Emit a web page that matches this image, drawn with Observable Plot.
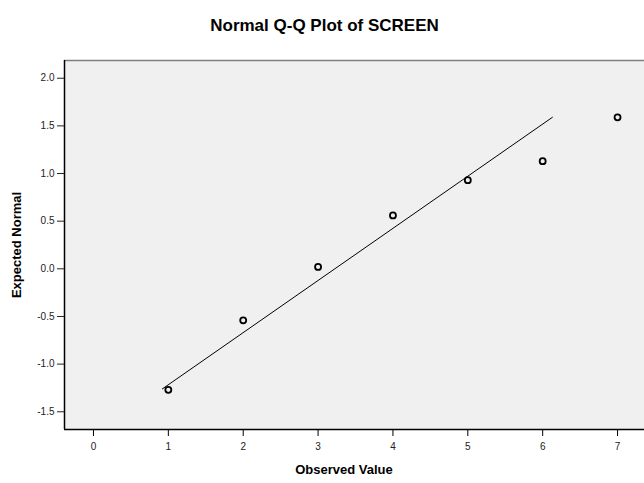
<!DOCTYPE html>
<html>
<head>
<meta charset="utf-8">
<script src="https://cdn.jsdelivr.net/npm/d3@7"></script>
<script src="https://cdn.jsdelivr.net/npm/@observablehq/plot@0.6"></script>
<style>
  html, body { margin: 0; padding: 0; background: white; }
  #chart svg { display: block; }
</style>
</head>
<body>
<div id="chart"></div>
<script>
const title = "Normal Q-Q Plot of SCREEN";
const xLabel = "Observed Value";
const yLabel = "Expected Normal";
const observed = [1, 2, 3, 4, 5, 6, 7];
const expected = [-1.27, -0.54, 0.02, 0.56, 0.93, 1.13, 1.59];
const lineX = [0.92, 6.13];
const lineY = [-1.26, 1.59];
const xTicks = [0, 1, 2, 3, 4, 5, 6, 7];
const yTicks = [-1.5, -1.0, -0.5, 0.0, 0.5, 1.0, 1.5, 2.0];

const points = observed.map((x, i) => ({x, y: expected[i]}));
const fitLine = lineX.map((x, i) => ({x, y: lineY[i]}));
const xDomain = [-0.387, 7.36];
const yDomain = [-1.686, 2.186];

const chart = Plot.plot({
  width: 644,
  height: 483,
  marginLeft: 64,
  marginRight: 0,
  marginTop: 60,
  marginBottom: 54,
  style: {fontFamily: "'Liberation Sans', Arial, sans-serif", fontSize: "10px", background: "white", color: "black"},
  x: {domain: xDomain},
  y: {domain: yDomain},
  marks: [
    Plot.frame({fill: "#f0f0f0", stroke: null}),
    Plot.ruleY([yDomain[1]], {stroke: "#808080", strokeWidth: 1.5}),
    Plot.ruleX([xDomain[0]], {stroke: "black", strokeWidth: 1.5}),
    Plot.ruleY([yDomain[0]], {stroke: "black", strokeWidth: 1.5}),
    Plot.axisX(xTicks, {tickSize: 7, tickPadding: 6, label: null, fontSize: 10, stroke: "black", color: "#222"}),
    Plot.axisY(yTicks, {tickSize: 7, tickPadding: 3, label: null, fontSize: 10, tickFormat: d => d.toFixed(1), color: "#222"}),
    Plot.line(fitLine, {x: "x", y: "y", stroke: "black", strokeWidth: 1}),
    Plot.dot(points, {x: "x", y: "y", r: 3, stroke: "black", strokeWidth: 1.8, fill: "none"}),
    Plot.text([title], {frameAnchor: "top", dy: -42, dx: -30, fontSize: 17, fontWeight: "bold", text: d => d}),
    Plot.text([xLabel], {frameAnchor: "bottom", dy: 44.5, dx: -10.5, fontSize: 13, fontWeight: "bold", text: d => d}),
    Plot.text([yLabel], {frameAnchor: "left", dx: -48, rotate: -90, textAnchor: "middle", fontSize: 13, fontWeight: "bold", text: d => d})
  ]
});
document.getElementById("chart").appendChild(chart);
</script>
</body>
</html>
